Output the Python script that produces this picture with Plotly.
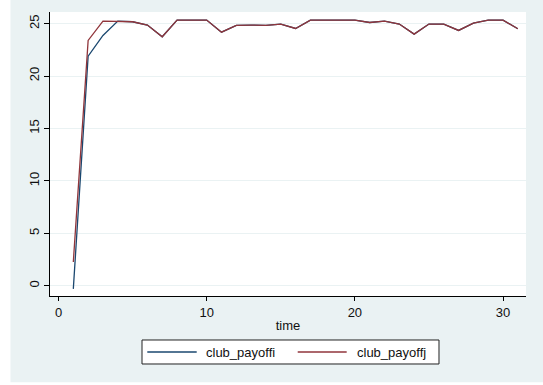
import plotly.graph_objects as go

time = list(range(1, 32))
club_payoffi = [-0.3, 21.9, 23.87, 25.24, 25.18, 24.86, 23.75, 25.34, 25.34, 25.34,
                24.19, 24.83, 24.86, 24.83, 24.96, 24.54, 25.34, 25.34, 25.34, 25.34,
                25.11, 25.24, 24.96, 24.0, 24.96, 24.96, 24.35, 25.05, 25.34, 25.34, 24.51]
club_payoffj = [2.27, 23.4, 25.24, 25.24, 25.18, 24.86, 23.75, 25.34, 25.34, 25.34,
                24.19, 24.83, 24.86, 24.83, 24.96, 24.54, 25.34, 25.34, 25.34, 25.34,
                25.11, 25.24, 24.96, 24.0, 24.96, 24.96, 24.35, 25.05, 25.34, 25.34, 24.51]
series_names = ["club_payoffi", "club_payoffj"]
series_colors = ["#1A476F", "#90353B"]
x_ticks = [0, 10, 20, 30]
y_ticks = [0, 5, 10, 15, 20, 25]

BG = "#EAF2F3"
FONT = "Liberation Sans, Arial, sans-serif"

fig = go.Figure()
for vals, name, col in zip([club_payoffi, club_payoffj], series_names, series_colors):
    fig.add_trace(go.Scatter(x=time, y=vals, mode="lines", name=name,
                             line=dict(color=col, width=1.3), showlegend=False))

# legend drawn in paper coordinates (Stata-style boxed legend)
shapes = [
    dict(type="rect", xref="paper", yref="paper", x0=-0.107, x1=-0.083,
         y0=-0.32, y1=1.1, fillcolor="white", line=dict(width=0), layer="above"),
    dict(type="rect", xref="paper", yref="paper", x0=-0.107, x1=1.1,
         y0=-0.32, y1=-0.304, fillcolor="white", line=dict(width=0), layer="above"),
    dict(type="rect", xref="paper", yref="paper", x0=0.1933, x1=0.8172,
         y0=-0.2394, y1=-0.1549, fillcolor="white", line=dict(color="#222222", width=1),
         layer="above"),
]
annotations = []
leg_line_x = [(0.2044, 0.3082), (0.5204, 0.6233)]
leg_text_x = [0.3256, 0.6429]
leg_y = -0.1972
for (x0, x1), tx, name, col in zip(leg_line_x, leg_text_x, series_names, series_colors):
    shapes.append(dict(type="line", xref="paper", yref="paper", x0=x0, x1=x1,
                       y0=leg_y, y1=leg_y, line=dict(color=col, width=1.3), layer="above"))
    annotations.append(dict(text=name, xref="paper", yref="paper", x=tx, y=leg_y,
                            xanchor="left", yanchor="middle", showarrow=False,
                            font=dict(size=13, color="#111111"), borderpad=0))

fig.update_layout(
    width=543, height=385,
    margin=dict(l=50, r=17, t=12, b=89),
    paper_bgcolor=BG, plot_bgcolor="white",
    font=dict(family=FONT, size=13, color="#111111"),
    showlegend=False,
    xaxis=dict(range=[-0.574, 31.55], tickvals=x_ticks, showgrid=False, zeroline=False,
               showline=True, linecolor="black", linewidth=1, ticks="outside",
               ticklen=4, tickcolor="black",
               title=dict(text="time", standoff=2, font=dict(size=13))),
    yaxis=dict(range=[-0.98, 26.11], tickvals=y_ticks, showgrid=True, gridcolor=BG,
               gridwidth=1, zeroline=False, showline=True, linecolor="black",
               linewidth=1, ticks="outside", ticklen=5, tickcolor="black",
               tickangle=-90),
    shapes=shapes,
    annotations=annotations,
)

fig.write_html("out.html", config={"displayModeBar": False},
               post_script="document.body.style.margin='0';document.body.style.padding='0';")
